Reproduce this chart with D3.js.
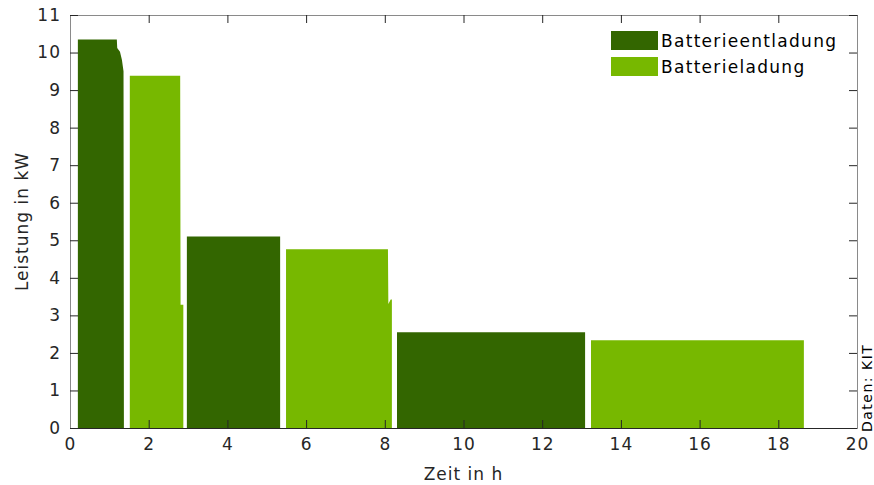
<!DOCTYPE html>
<html lang="de">
<head>
<meta charset="UTF-8">
<script src="https://d3js.org/d3.v7.min.js"></script>
<style>
  body { margin: 0; background: #fff; }
  text { font-family: "DejaVu Sans", sans-serif; fill: #262626; letter-spacing: 1px; }
</style>
<title>Batterieleistung</title>
</head>
<body>
<div id="chart"></div>
<script>
    const width = 874, height = 485;
    const margin = { top: 15, right: 17, bottom: 57, left: 70 };

    // Leistungsverlauf je Zyklus: [Zeit in h, Leistung in kW]
    const entladung1 = [[0.2, 10.35], [1.19, 10.35], [1.2, 10.12], [1.27, 10.02], [1.32, 9.8], [1.36, 9.5], [1.37, 0], [0.2, 0]];
    const ladung1 = [[1.52, 9.38], [2.8, 9.38], [2.81, 3.28], [2.88, 3.28], [2.88, 0], [1.52, 0]];
    const entladung2 = [[2.97, 5.1], [5.34, 5.1], [5.34, 0], [2.97, 0]];
    const ladung2 = [[5.49, 4.76], [8.08, 4.76], [8.09, 3.3], [8.15, 3.42], [8.18, 3.42], [8.18, 0], [5.49, 0]];
    const entladung3 = [[8.31, 2.55], [13.09, 2.55], [13.09, 0], [8.31, 0]];
    const ladung3 = [[13.24, 2.34], [18.65, 2.34], [18.65, 0], [13.24, 0]];

    const entladungen = [entladung1, entladung2, entladung3];
    const ladungen = [ladung1, ladung2, ladung3];

    const xTicks = [0, 2, 4, 6, 8, 10, 12, 14, 16, 18, 20];
    const yTicks = [0, 1, 2, 3, 4, 5, 6, 7, 8, 9, 10, 11];
    const legendLabels = ["Batterieentladung", "Batterieladung"];
    const colors = ["#336600", "#77b800"];

    const svg = d3.select("#chart").append("svg")
        .attr("width", width)
        .attr("height", height);

    const x = d3.scaleLinear().domain([0, 20]).range([margin.left, width - margin.right]);
    const y = d3.scaleLinear().domain([0, 11]).range([height - margin.bottom, margin.top]);

    const line = d3.line().x(d => x(d[0])).y(d => y(d[1]));

    // Flächen zeichnen
    svg.selectAll(".entladung")
        .data(entladungen)
        .enter().append("path")
        .attr("class", "entladung")
        .attr("d", d => line(d) + "Z")
        .attr("fill", colors[0]);

    svg.selectAll(".ladung")
        .data(ladungen)
        .enter().append("path")
        .attr("class", "ladung")
        .attr("d", d => line(d) + "Z")
        .attr("fill", colors[1]);

    // Achsen mit Ticks nach innen (auch oben und rechts)
    const tickLen = 8;
    const axisColor = "#262626";

    const axisBottom = svg.append("g")
        .attr("transform", `translate(0,${y(0)})`)
        .call(d3.axisBottom(x).tickValues(xTicks).tickSizeInner(-tickLen).tickSizeOuter(0).tickPadding(10));
    const axisTop = svg.append("g")
        .attr("transform", `translate(0,${y(11)})`)
        .call(d3.axisTop(x).tickValues(xTicks).tickSizeInner(-tickLen).tickSizeOuter(0).tickFormat(""));
    const axisLeft = svg.append("g")
        .attr("transform", `translate(${x(0)},0)`)
        .call(d3.axisLeft(y).tickValues(yTicks).tickSizeInner(-tickLen).tickSizeOuter(0).tickPadding(9));
    const axisRight = svg.append("g")
        .attr("transform", `translate(${x(20)},0)`)
        .call(d3.axisRight(y).tickValues(yTicks).tickSizeInner(-tickLen).tickSizeOuter(0).tickFormat(""));

    [axisBottom, axisTop, axisLeft, axisRight].forEach(g => {
        g.selectAll("line").attr("stroke", axisColor);
        g.select("path").attr("stroke", "#8a8a8a");
        g.selectAll("text")
            .style("font-family", "DejaVu Sans, sans-serif")
            .style("font-size", "17px")
            .attr("fill", axisColor);
    });
    axisBottom.select("path").attr("stroke", axisColor);

    // Achsentitel
    svg.append("text")
        .attr("x", (x(0) + x(20)) / 2)
        .attr("y", 480)
        .attr("text-anchor", "middle")
        .style("font-size", "17px")
        .text("Zeit in h");

    svg.append("text")
        .attr("transform", `translate(28,${(y(0) + y(11)) / 2}) rotate(-90)`)
        .attr("text-anchor", "middle")
        .style("font-size", "17px")
        .text("Leistung in kW");

    // Legende
    const legend = svg.selectAll(".legend")
        .data(legendLabels)
        .enter().append("g")
        .attr("class", "legend")
        .attr("transform", (d, i) => `translate(611,${31 + i * 26})`);
    legend.append("rect")
        .attr("width", 47)
        .attr("height", 19)
        .attr("fill", (d, i) => colors[i]);
    legend.append("text")
        .attr("x", 50)
        .attr("y", 16)
        .style("font-size", "17px")
        .style("letter-spacing", "1.3px")
        .style("fill", "#000")
        .text(d => d);

    // Quelle
    svg.append("text")
        .attr("transform", `translate(872,432) rotate(-90)`)
        .style("font-size", "14px")
        .style("letter-spacing", "1.5px")
        .style("fill", "#000")
        .text("Daten: KIT");
</script>
</body>
</html>
